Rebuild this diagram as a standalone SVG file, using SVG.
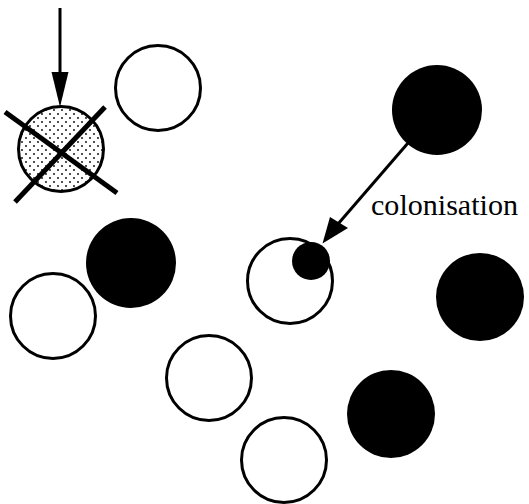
<svg xmlns="http://www.w3.org/2000/svg" width="529" height="504" viewBox="0 0 529 504">
<defs>
<style>
.open{fill:#fff;stroke:#000;stroke-width:3}
.full{fill:#000;stroke:none}
.line{stroke:#000;stroke-width:3;fill:none}
.head{fill:#000;stroke:none}
.cross{stroke:#000;stroke-width:5;stroke-linecap:butt}
.lbl{font-family:"Liberation Serif","Times New Roman",serif;font-size:29px;fill:#000}
</style>
<pattern id="dots" width="8" height="8" patternUnits="userSpaceOnUse">
<rect width="8" height="8" fill="#fff"/>
<circle cx="2" cy="2" r="0.9" fill="#000"/>
<circle cx="6" cy="6" r="0.9" fill="#000"/>
</pattern>
</defs>
<g id="node-removed">
<circle cx="61" cy="149" r="42.5" fill="url(#dots)" stroke="#000" stroke-width="3"/>
<line class="cross" x1="5" y1="112" x2="117" y2="193"/>
<line class="cross" x1="105" y1="107" x2="15" y2="202"/>
</g>
<g id="node-open1"><circle class="open" cx="158" cy="88" r="42.5"/></g>
<g id="node-full1"><circle class="full" cx="437" cy="110" r="45"/></g>
<g id="node-full2"><circle class="full" cx="131" cy="263" r="45"/></g>
<g id="node-open2"><circle class="open" cx="53" cy="316" r="42.5"/></g>
<g id="node-colonised">
<circle class="open" cx="290" cy="281" r="42.5"/>
<circle class="full" cx="311" cy="261" r="19"/>
</g>
<g id="node-full3"><circle class="full" cx="480" cy="297" r="44"/></g>
<g id="node-open3"><circle class="open" cx="209" cy="378" r="42.5"/></g>
<g id="node-full4"><circle class="full" cx="391" cy="414" r="44"/></g>
<g id="node-open4"><circle class="open" cx="284" cy="460" r="42.5"/></g>
<g id="connectors">
<line class="line" x1="60" y1="8" x2="60" y2="76"/>
<polygon class="head" points="51.5,72 68.5,72 60,107"/>
<line class="line" x1="408" y1="143" x2="338" y2="224"/>
<polygon class="head" points="330,217 348,228 322.5,243.5"/>
</g>
<text class="lbl" x="371" y="215" textLength="147" lengthAdjust="spacingAndGlyphs">colonisation</text>
</svg>
